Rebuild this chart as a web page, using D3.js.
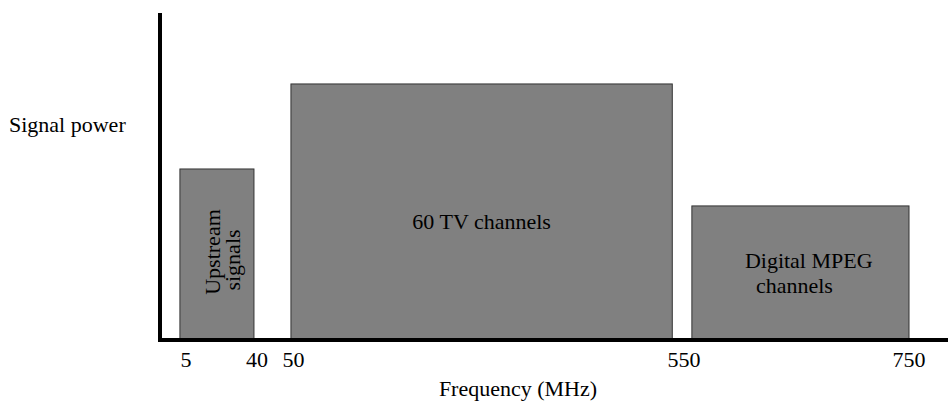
<!DOCTYPE html>
<html>
<head>
<meta charset="utf-8">
<script src="https://cdn.jsdelivr.net/npm/d3@7"></script>
<style>
  body { margin: 0; background: #fff; }
</style>
</head>
<body>
<div id="chart"></div>
<script>
    var w = 948;
    var h = 403;

    // frequency bands (MHz) and relative signal power
    var bandNames = ["Upstream signals", "60 TV channels", "Digital MPEG channels"];
    var bandStart = [2, 49.3, 557];
    var bandEnd = [38.5, 535, 750];
    var bandPower = [52.3, 78.3, 41];
    var tickLabels = [5, 40, 50, 550, 750];

    var fontFamily = "'Liberation Serif', 'Times New Roman', Times, 'Nimbus Roman', 'DejaVu Serif', serif";

    var svg = d3.select("#chart")
            .append("svg")
            .attr("width", w)
            .attr("height", h)
            .attr("font-family", fontFamily)
            .attr("font-size", 22);

    // the frequency axis is not to scale, so use a piecewise scale through the tick points
    var x = d3.scaleLinear()
              .domain(tickLabels)
              .range([186, 257, 293.5, 684, 909]);

    var y = d3.scaleLinear()
              .domain([0, 100])
              .range([340, 13]);

    // bars
    svg.selectAll("rect.band")
        .data(bandNames)
        .enter()
        .append("rect")
        .attr("class", "band")
        .attr("x", function(d, i) { return x(bandStart[i]); })
        .attr("width", function(d, i) { return x(bandEnd[i]) - x(bandStart[i]); })
        .attr("y", function(d, i) { return y(bandPower[i]); })
        .attr("height", function(d, i) { return y(0) - y(bandPower[i]); })
        .attr("fill", "#808080")
        .attr("stroke", "#333")
        .attr("stroke-width", 1);

    // axes lines
    svg.append("line")
        .attr("x1", 160).attr("x2", 160)
        .attr("y1", y(100)).attr("y2", y(0) + 2)
        .attr("stroke", "#000").attr("stroke-width", 4);
    svg.append("line")
        .attr("x1", 158).attr("x2", w)
        .attr("y1", y(0)).attr("y2", y(0))
        .attr("stroke", "#000").attr("stroke-width", 4);

    // tick labels
    svg.selectAll("text.tick")
        .data(tickLabels)
        .enter()
        .append("text")
        .attr("class", "tick")
        .attr("x", function(d) { return x(d); })
        .attr("y", 367)
        .attr("text-anchor", "middle")
        .text(function(d) { return d; });

    // axis titles
    svg.append("text")
        .attr("x", 9)
        .attr("y", 132)
        .text("Signal power");
    svg.append("text")
        .attr("x", 518)
        .attr("y", 396)
        .attr("text-anchor", "middle")
        .text("Frequency (MHz)");

    // band labels
    var upX = (x(bandStart[0]) + x(bandEnd[0])) / 2;
    var upY = 256;
    svg.append("text")
        .attr("transform", "translate(" + (upX + 3) + "," + (upY - 4) + ") rotate(-90)")
        .attr("text-anchor", "middle")
        .text("Upstream");
    svg.append("text")
        .attr("transform", "translate(" + (upX + 23) + "," + (upY + 4) + ") rotate(-90)")
        .attr("text-anchor", "middle")
        .text("signals");

    svg.append("text")
        .attr("x", (x(bandStart[1]) + x(bandEnd[1])) / 2)
        .attr("y", 229)
        .attr("text-anchor", "middle")
        .text("60 TV channels");

    svg.append("text")
        .attr("x", x(bandStart[2]) + 53)
        .attr("y", 268)
        .text("Digital MPEG");
    svg.append("text")
        .attr("x", x(bandStart[2]) + 64)
        .attr("y", 293)
        .text("channels");
</script>
</body>
</html>
